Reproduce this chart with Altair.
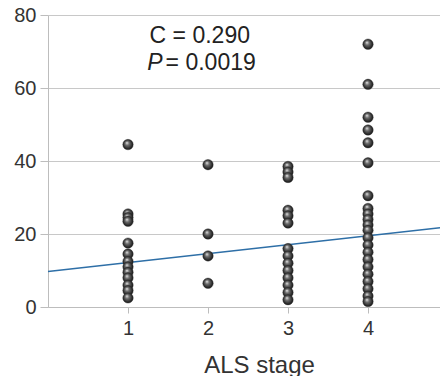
import altair as alt
import pandas as pd

stage1 = [44.5, 25.5, 24.5, 23.5, 17.5, 14.5, 12.5, 11, 9.5, 8, 6, 4.5, 2.5]
stage2 = [39, 20, 14, 6.5]
stage3 = [38.5, 37, 35.5, 26.5, 25, 23, 16, 14, 12, 10, 8, 6, 4, 2]
stage4 = [72, 61, 52, 48.5, 45, 39.5, 30.5, 27, 25.5, 24, 22.5, 21, 19, 17, 15, 13, 11, 9, 7, 5, 3, 1.5]

line_x = [0, 4.9]
line_y = [9.7, 21.7]

x_ticks = [1, 2, 3, 4]
y_ticks = [0, 20, 40, 60, 80]

rows = []
for stage, vals in zip([1, 2, 3, 4], [stage1, stage2, stage3, stage4]):
    for v in vals:
        rows.append({"stage": stage, "value": v})
pts = pd.DataFrame(rows)
reg = pd.DataFrame({"stage": line_x, "value": line_y})

ann = pd.DataFrame({
    "stage": [1.27, 1.24, 1.47],
    "value": [72.2, 64.9, 64.9],
    "txt": ["C = 0.290", "P", "= 0.0019"],
    "style": ["normal", "italic", "normal"],
})

FONT = "Liberation Sans"
xs = alt.Scale(domain=[0, 4.9], nice=False, zero=False)
ys = alt.Scale(domain=[0, 80], nice=False)

sphere = {
    "gradient": "radial",
    "x1": 0.38, "y1": 0.32, "r1": 0.0,
    "x2": 0.5, "y2": 0.5, "r2": 0.55,
    "stops": [
        {"offset": 0.0, "color": "#f2f2f2"},
        {"offset": 0.35, "color": "#6e6e6e"},
        {"offset": 0.8, "color": "#262626"},
        {"offset": 1.0, "color": "#111111"},
    ],
}

points = alt.Chart(pts).mark_point(
    filled=True, fill=sphere, size=110, opacity=1, shape="circle",
    stroke="#333333", strokeWidth=0.4
).encode(
    x=alt.X("stage:Q", scale=xs, axis=alt.Axis(
        values=x_ticks, format="d", title="ALS stage", grid=False, tickSize=6,
        labelFontSize=20, titleFontSize=24, labelPadding=5,
        titleX=211, titleY=65, titleBaseline="alphabetic",
        titleFontWeight="normal")),
    y=alt.Y("value:Q", scale=ys, axis=alt.Axis(
        values=y_ticks, format="d", title=None, grid=True, tickSize=8,
        labelFontSize=20, labelPadding=4)),
)

line = alt.Chart(reg).mark_line(color="#2e6fa7", strokeWidth=1.5).encode(
    x=alt.X("stage:Q", scale=xs),
    y=alt.Y("value:Q", scale=ys),
)

text_norm = alt.Chart(ann[ann["style"] == "normal"]).mark_text(
    align="left", baseline="alphabetic", fontSize=23, font=FONT, color="#222222"
).encode(x=alt.X("stage:Q", scale=xs), y=alt.Y("value:Q", scale=ys), text="txt:N")

text_it = alt.Chart(ann[ann["style"] == "italic"]).mark_text(
    align="left", baseline="alphabetic", fontSize=23, font=FONT, fontStyle="italic",
    color="#222222"
).encode(x=alt.X("stage:Q", scale=xs), y=alt.Y("value:Q", scale=ys), text="txt:N")

chart = alt.layer(line, points, text_norm, text_it).properties(
    width=392, height=292,
    autosize=alt.AutoSizeParams(type="none"),
    padding={"left": 48, "top": 15, "right": 0, "bottom": 69},
    background="white",
).configure_view(stroke=None).configure_axis(
    domainColor="#bdbdbd", tickColor="#bdbdbd", gridColor="#c8c8c8",
    labelColor="#333333", titleColor="#333333", labelFont=FONT, titleFont=FONT,
    domainWidth=1, gridWidth=1,
)

chart.save("out.html", embed_options={"renderer": "svg", "actions": False})
